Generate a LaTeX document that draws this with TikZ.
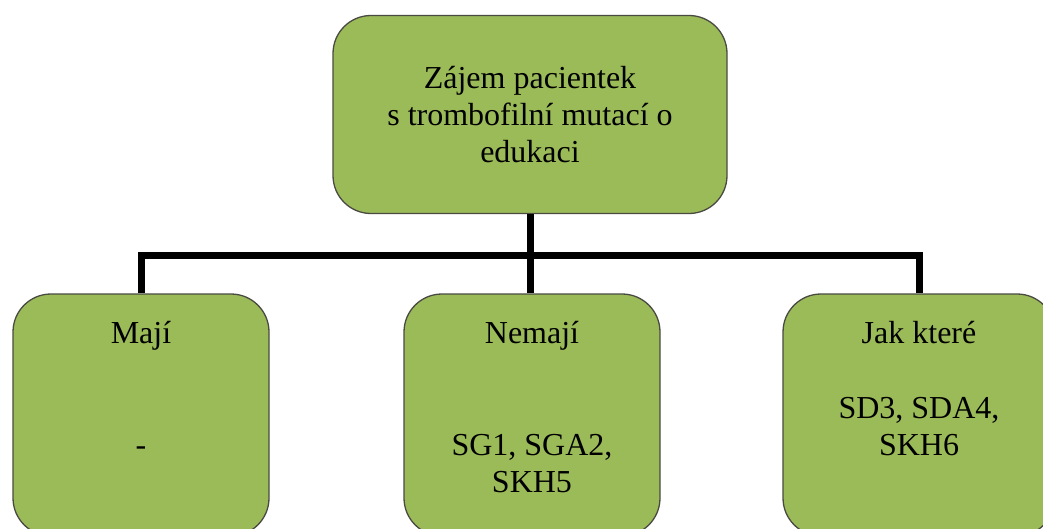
\documentclass[tikz,border=0pt]{standalone}
\usepackage{fontspec}
\setmainfont{Liberation Serif}
\definecolor{boxgreen}{HTML}{9BBB59}
\definecolor{boxedge}{HTML}{4A4A42}
\begin{document}
\begin{tikzpicture}[x=1pt,y=-1pt,
  box/.style={draw=boxedge, fill=boxgreen, line width=1.3pt, rounded corners=38pt, inner sep=0pt},
  lbl/.style={font=\fontsize{32}{37}\selectfont, inner sep=0pt, text=black},
  conn/.style={draw=black, line width=7pt, line join=miter}]
\useasboundingbox (0,0) rectangle (1043,529);
\clip (0,0) rectangle (1043,529);
% top box
\node[box, minimum width=394pt, minimum height=198pt, align=center,
      font=\fontsize{32}{37}\selectfont] (top) at (530,114.5)
  {Zájem pacientek\\ s trombofilní mutací o\\ edukaci};
% bottom boxes
\node[box, minimum width=256pt, minimum height=242pt] (b1) at (141,415) {};
\node[box, minimum width=256pt, minimum height=242pt] (b2) at (532,415) {};
\node[box, minimum width=272pt, minimum height=242pt] (b3) at (919,415) {};
% connectors
\coordinate (bar) at (530,255.5);
\draw[conn] (b1.north) |- (bar) -| (b3.north);
\draw[conn] (top.south) -- (top.south |- b2.north);
% texts
\node[lbl, anchor=base] (t1) at (141,343) {Mají};
\node[lbl, anchor=base] (t1a) at (141,455) {-};
\node[lbl, anchor=base] (t2) at (532,343) {Nemají};
\node[lbl, anchor=base] (t2a) at (532,455) {SG1, SGA2,};
\node[lbl, anchor=base] (t2b) at (532,492) {SKH5};
\node[lbl, anchor=base] (t3) at (919,343) {Jak které};
\node[lbl, anchor=base] (t3a) at (919,418) {SD3, SDA4,};
\node[lbl, anchor=base] (t3b) at (919,455) {SKH6};
\end{tikzpicture}
\end{document}
